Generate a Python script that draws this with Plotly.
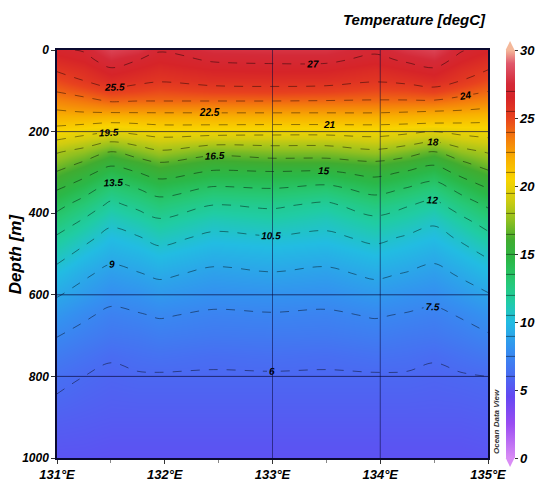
import plotly.graph_objects as go

# Longitudes (deg E) of the grid columns
lons = [131.0, 131.25, 131.5, 131.75, 131.95, 132.45, 133.0, 133.5, 133.95, 134.25, 134.5, 134.75, 135.0]
# Depths (m) of the grid rows
depths = [0, 25, 50, 75, 100, 125, 150, 175, 200, 225, 250, 275, 300, 340, 380,
          420, 460, 500, 550, 600, 650, 700, 750, 800, 900, 1000]

# Temperature (degC), one row per depth, read from the section
t_0    = [26.8, 27.1, 28.3, 27.9, 27.1, 27.7, 27.8, 27.8, 27.2, 27.9, 28.3, 27.1, 26.6]
t_25   = [26.2, 26.6, 27.55, 27.0, 26.6, 27.1, 27.2, 27.2, 26.7, 27.15, 27.55, 26.6, 26.0]
t_50   = [25.6, 26.0, 26.8, 26.4, 26.1, 26.5, 26.6, 26.55, 26.1, 26.5, 26.8, 26.0, 25.47]
t_75   = [24.8, 25.5, 26.1, 25.8, 25.6, 25.9, 25.9, 25.9, 25.6, 25.8, 26.1, 25.5, 24.8]
t_100  = [24.1, 24.6, 25.2, 25.0, 24.8, 25.1, 25.2, 25.1, 24.8, 24.9, 25.15, 24.6, 24.05]
t_125  = [23.2, 23.6, 24.1, 24.0, 24.0, 24.0, 24.0, 23.95, 23.9, 23.9, 23.9, 23.5, 23.2]
t_150  = [22.4, 22.6, 22.7, 22.7, 22.7, 22.7, 22.7, 22.7, 22.7, 22.6, 22.5, 22.4, 22.2]
t_175  = [21.5, 21.4, 21.2, 21.3, 21.4, 21.45, 21.45, 21.45, 21.45, 21.4, 21.3, 21.2, 21.1]
t_200  = [20.4, 20.0, 19.6, 19.9, 20.2, 20.1, 20.0, 20.0, 20.1, 19.8, 19.5, 19.9, 20.1]
t_225  = [19.3, 18.7, 18.0, 18.5, 18.9, 18.5, 18.5, 18.5, 18.9, 18.5, 18.0, 18.7, 19.1]
t_250  = [18.1, 17.5, 16.46, 17.2, 17.8, 16.9, 17.2, 17.2, 17.7, 17.1, 16.45, 17.5, 18.1]
t_275  = [17.3, 16.4, 15.4, 16.0, 16.55, 15.8, 16.05, 16.05, 16.4, 15.9, 15.3, 16.35, 17.2]
t_300  = [16.4, 15.5, 14.35, 15.0, 15.6, 14.8, 14.9, 14.8, 15.4, 14.85, 14.3, 15.4, 16.3]
t_340  = [15.1, 14.1, 12.9, 13.5, 14.1, 13.3, 13.47, 13.1, 14.0, 13.4, 12.8, 13.95, 14.97]
t_380  = [13.9, 12.9, 11.7, 12.3, 12.9, 12.0, 12.2, 11.75, 12.7, 12.1, 11.6, 12.7, 13.7]
t_420  = [12.9, 11.8, 10.8, 11.3, 11.8, 11.0, 11.3, 10.9, 11.65, 11.2, 10.7, 11.6, 12.6]
t_460  = [11.8, 10.9, 10.0, 10.4, 10.9, 10.2, 10.4, 10.2, 10.8, 10.35, 10.0, 10.7, 11.6]
t_500  = [11.0, 10.1, 9.4, 9.7, 10.1, 9.5, 9.7, 9.5, 10.05, 9.7, 9.35, 10.0, 10.7]
t_550  = [10.0, 9.2, 8.6, 8.9, 9.2, 8.7, 8.9, 8.7, 9.2, 8.9, 8.6, 9.15, 9.8]
t_600  = [9.1, 8.5, 7.9, 8.1, 8.4, 8.0, 8.1, 8.0, 8.4, 8.1, 7.9, 8.4, 8.9]
t_650  = [8.3, 7.7, 7.2, 7.4, 7.6, 7.3, 7.4, 7.3, 7.6, 7.4, 7.2, 7.6, 8.1]
t_700  = [7.55, 7.1, 6.7, 6.8, 7.0, 6.8, 6.85, 6.8, 7.0, 6.8, 6.7, 7.0, 7.4]
t_750  = [6.9, 6.5, 6.1, 6.3, 6.4, 6.2, 6.3, 6.2, 6.4, 6.3, 6.1, 6.4, 6.7]
t_800  = [6.3, 6.0, 5.8, 5.9, 5.9, 5.9, 5.9, 5.9, 5.9, 5.9, 5.8, 5.9, 6.0]
t_900  = [5.6, 5.5, 5.4, 5.4, 5.4, 5.4, 5.4, 5.4, 5.4, 5.4, 5.4, 5.4, 5.5]
t_1000 = [5.0, 5.0, 4.9, 4.9, 4.9, 4.9, 4.9, 4.9, 4.9, 4.9, 4.9, 4.9, 5.0]

temps = [t_0, t_25, t_50, t_75, t_100, t_125, t_150, t_175, t_200, t_225, t_250,
         t_275, t_300, t_340, t_380, t_420, t_460, t_500, t_550, t_600, t_650,
         t_700, t_750, t_800, t_900, t_1000]

lon_ticks = [131, 132, 133, 134, 135]
lon_labels = ["131°E", "132°E", "133°E", "134°E", "135°E"]
depth_ticks = [0, 200, 400, 600, 800, 1000]
cbar_ticks = [0, 5, 10, 15, 20, 25, 30]
grid_depths = [200, 600, 800]
grid_lons = [133, 134]

ZMIN, ZMAX = 0, 30
stops = [
    (0.0, "#d98cf5"), (2.5, "#9a4cf2"), (4.5, "#6448f2"), (6.0, "#4a6af2"),
    (8.0, "#3490f0"), (10.0, "#22bce2"), (11.5, "#20cca4"), (13.0, "#26c874"),
    (14.5, "#2ab848"), (16.0, "#40ac30"), (17.5, "#90c020"), (19.0, "#d0cc10"),
    (20.5, "#f8d400"), (22.0, "#f8b000"), (23.5, "#f47c0c"), (25.0, "#e8421e"),
    (26.5, "#d62428"), (27.5, "#d42a38"), (29.0, "#e0586c"), (30.0, "#f4b89a"),
]
colorscale = [[(v - ZMIN) / (ZMAX - ZMIN), c] for v, c in stops]

FONT = "Liberation Sans, Arial"
BI = dict(weight="bold", style="italic", color="black")

fig = go.Figure()
fig.add_trace(go.Contour(
    x=lons, y=depths, z=temps,
    zmin=ZMIN, zmax=ZMAX, colorscale=colorscale,
    contours=dict(start=6, end=27, size=1.5, coloring="heatmap",
                  showlines=True, showlabels=True,
                  labelfont=dict(family=FONT, size=10, **BI)),
    line=dict(color="rgba(0,0,0,0.55)", width=0.8, dash="dash", smoothing=1.0),
    colorbar=dict(
        x=1.041, xanchor="left", y=0.5, yanchor="middle", len=1, lenmode="fraction",
        thickness=9, ypad=0, xpad=0, outlinewidth=0,
        tickvals=cbar_ticks, ticks="outside", ticklen=3, tickcolor="#333",
        tickfont=dict(family=FONT, size=13, **BI),
    ),
    hoverinfo="skip",
))

shapes = []
for d in grid_depths:
    shapes.append(dict(type="line", xref="paper", yref="y", x0=0, x1=1, y0=d, y1=d,
                       line=dict(color="rgba(10,10,60,0.7)", width=1), layer="above"))
for lo in grid_lons:
    shapes.append(dict(type="line", xref="x", yref="paper", x0=lo, x1=lo, y0=0, y1=1,
                       line=dict(color="rgba(10,10,60,0.55)", width=1), layer="above"))
# colour bar end arrows
shapes.append(dict(type="path", xref="paper", yref="paper",
                   path="M 1.041 1 L 1.0614 1 L 1.0512 1.022 Z",
                   fillcolor="#f4b89a", line=dict(width=0)))
shapes.append(dict(type="path", xref="paper", yref="paper",
                   path="M 1.041 0 L 1.0614 0 L 1.0512 -0.022 Z",
                   fillcolor="#d98cf5", line=dict(width=0)))

fig.update_layout(
    width=547, height=488,
    margin=dict(l=57, r=49, t=50, b=30),
    paper_bgcolor="white", plot_bgcolor="white",
    shapes=shapes,
    xaxis=dict(range=[131, 135], tickvals=lon_ticks, ticktext=lon_labels,
               automargin=False,
               ticks="outside", ticklen=4, tickcolor="#333",
               minor=dict(dtick=0.5, ticks="outside", ticklen=3, tickcolor="#888"),
               showgrid=False, zeroline=False,
               showline=True, linecolor="#0a0a30", linewidth=1.5, mirror=True,
               tickfont=dict(family=FONT, size=13, **BI)),
    yaxis=dict(range=[1000, 0], tickvals=depth_ticks, automargin=False,
               ticks="outside", ticklen=4, tickcolor="#333",
               showgrid=False, zeroline=False,
               showline=True, linecolor="#0a0a30", linewidth=1.5, mirror=True,
               tickfont=dict(family=FONT, size=12, **BI)),
    annotations=[
        dict(text="Depth [m]", xref="paper", yref="paper", x=-0.097, y=0.5,
             xanchor="center", yanchor="middle", textangle=-90, showarrow=False,
             font=dict(family=FONT, size=17, **BI)),
        dict(text="Temperature [degC]", xref="paper", yref="paper", x=1.0, y=1.0,
             xanchor="right", yanchor="bottom", yshift=20, showarrow=False,
             font=dict(family=FONT, size=15, **BI)),
        dict(text="Ocean Data View", xref="paper", yref="paper", x=1.0, y=0.0,
             xanchor="left", yanchor="bottom", xshift=2, yshift=2, textangle=-90,
             showarrow=False,
             font=dict(family=FONT, size=8, color="#333", weight="bold", style="italic")),
    ],
)

fig.write_html("out.html", config={"displayModeBar": False},
               post_script="document.body.style.margin='0';document.body.style.overflow='hidden';")
